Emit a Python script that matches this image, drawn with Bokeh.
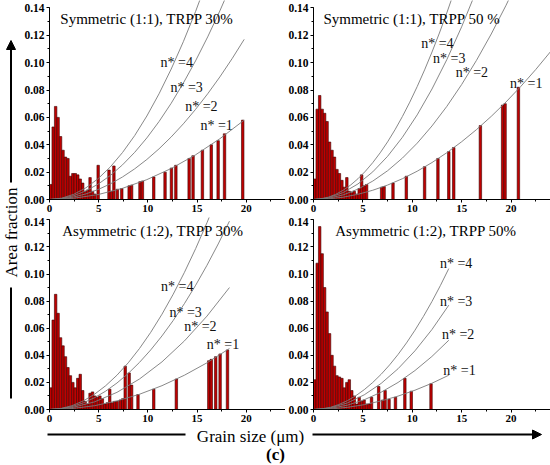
import math
from bokeh.plotting import figure
from bokeh.models import Range1d, SingleIntervalTicker, PrintfTickFormatter, Arrow, NormalHead
from bokeh.layouts import row, column
from bokeh.embed import file_html
from bokeh.resources import INLINE
from bokeh.core.properties import value

FONT = "Liberation Serif"
BIN = 0.25

titles = ["Symmetric (1:1), TRPP 30%", "Symmetric (1:1), TRPP 50 %",
          "Asymmetric (1:2), TRPP 30%", "Asymmetric (1:2), TRPP 50%"]
n_labels = ["n* =1", "n* =2", "n* =3", "n* =4"]

# ---- Top-left: Symmetric 30% ----
tl_dense = [0.011, 0.053, 0.068, 0.060, 0.046, 0.036, 0.031, 0.030, 0.017, 0.019,
            0.019, 0.018, 0.015, 0.012, 0.006, 0.007, 0.016, 0.006, 0.004]
tl_sparse_x = [4.95, 6.05, 6.3, 6.55, 6.9, 7.35, 8.1, 8.35, 9.2, 9.45, 10.6, 11.75,
               12.4, 12.85, 14.2, 14.6, 15.55, 16.45, 17.15, 17.8, 19.65]
tl_sparse_h = [0.025, 0.0215, 0.006, 0.0245, 0.0075, 0.008, 0.010, 0.0105, 0.013, 0.0135,
               0.0165, 0.020, 0.023, 0.025, 0.030, 0.032, 0.036, 0.040, 0.043, 0.048, 0.058]
tl_curve_x_end = 19.8
tl_curve_y_end = [0.058, 0.117, 0.180, 0.244]

# ---- Top-right: Symmetric 50% ----
tr_dense = [0.015, 0.066, 0.076, 0.066, 0.063, 0.057, 0.042, 0.036, 0.031, 0.022, 0.019,
            0.014, 0.009, 0.016, 0.006, 0.005, 0.006, 0.004, 0.008, 0.018, 0.010, 0.011]
tr_sparse_x = [6.9, 7.15, 8.05, 9.4, 11.25, 12.6, 13.7, 14.2, 16.9, 19.15, 19.4, 20.75]
tr_sparse_h = [0.009, 0.0095, 0.012, 0.017, 0.024, 0.030, 0.035, 0.038, 0.054, 0.069, 0.070, 0.082]
tr_curve_x_end = 24.0
tr_curve_y_end = [0.108, 0.215, 0.323, 0.431]

# ---- Bottom-left: Asymmetric 30% ----
bl_dense = [0.016, 0.066, 0.085, 0.071, 0.053, 0.047, 0.039, 0.031, 0.025, 0.020, 0.016,
            0.023, 0.026, 0.014, 0.006, 0.004, 0.012, 0.013, 0.010, 0.009, 0.010, 0.008,
            0.004, 0.005, 0.015, 0.005, 0.006, 0.006]
bl_sparse_x = [7.2, 7.45, 7.7, 8.1, 8.35, 9.0, 10.6, 12.9, 16.2, 16.45, 16.9, 17.35, 18.1]
bl_sparse_h = [0.007, 0.008, 0.032, 0.027, 0.018, 0.011, 0.015, 0.0225, 0.036, 0.037,
               0.039, 0.041, 0.044]
bl_curve_x_end = 18.3
bl_curve_y_end = [0.045, 0.090, 0.139, 0.180]

# ---- Bottom-right: Asymmetric 50% ----
br_dense = [0.022, 0.108, 0.135, 0.115, 0.090, 0.072, 0.056, 0.040, 0.032, 0.025, 0.024,
            0.023, 0.016, 0.020, 0.022, 0.014, 0.010, 0.004, 0.009, 0.006, 0.007, 0.004,
            0.004, 0.009]
br_sparse_x = [6.6, 7.0, 7.25, 7.65, 8.3, 9.25, 9.9, 11.9]
br_sparse_h = [0.017, 0.007, 0.014, 0.0075, 0.009, 0.023, 0.0135, 0.019]
br_curve_x_end = 13.7
br_curve_y_end = [0.0253, 0.0511, 0.077, 0.104]

# label positions (layout)
tl_lab = ([15.35, 13.8, 12.3, 11.3], [0.054, 0.068, 0.0817, 0.100])
tr_lab = ([19.9, 14.4, 12.1, 10.9], [0.085, 0.093, 0.1028, 0.1138])
bl_lab = ([16.0, 13.7, 12.2, 11.35], [0.048, 0.061, 0.0716, 0.0905])
br_lab = ([13.15, 13.0, 12.8, 12.8], [0.029, 0.055, 0.080, 0.1077])


def make_panel(dense, sx, sh, cxe, cye, lab, title, title_x, fw, fh, yend, left, right):
    p = figure(frame_width=fw, frame_height=fh, x_range=Range1d(0, 24), y_range=Range1d(0, yend),
               toolbar_location=None, output_backend="svg",
               min_border_left=left, min_border_right=right, min_border_top=0, min_border_bottom=18)
    p.outline_line_color = None
    p.grid.visible = False
    p.background_fill_color = "white"
    p.border_fill_color = "white"

    xs = [BIN / 2 + BIN * i for i in range(len(dense))]
    p.vbar(x=xs, top=dense, bottom=0, width=BIN, fill_color="#c00000",
           line_color="#3a0000", line_width=0.6)
    p.vbar(x=sx, top=sh, bottom=0, width=BIN, fill_color="#c00000",
           line_color="#3a0000", line_width=0.6)

    n = len(cye)
    p.quadratic(x0=[0] * n, y0=[0] * n, x1=[cxe] * n, y1=cye, cx=[cxe / 2] * n, cy=[0] * n,
                line_color="#7a7a7a", line_width=0.9)

    p.text(x=lab[0], y=lab[1], text=n_labels, text_font=value(FONT), text_font_size="14px",
           text_baseline="middle", text_align="left", text_color="#111111")
    p.text(x=[title_x], y=[0.132], text=[title], text_font=value(FONT), text_font_size="15px",
           text_baseline="alphabetic", text_align="left", text_color="black")

    ya = p.yaxis[0]
    ya.ticker = SingleIntervalTicker(interval=0.02, num_minor_ticks=2)
    ya.formatter = PrintfTickFormatter(format="%.2f")
    ya.bounds = (0, 0.1401)
    xa = p.xaxis[0]
    xa.ticker = SingleIntervalTicker(interval=5, num_minor_ticks=2)
    for ax, fs in ((ya, "11.5px"), (xa, "11px")):
        ax.major_tick_in = 0
        ax.major_tick_out = 3
        ax.minor_tick_in = 0
        ax.minor_tick_out = 2
        ax.major_label_standoff = 2
        ax.major_label_text_font = FONT
        ax.major_label_text_font_style = "bold"
        ax.major_label_text_font_size = fs
        ax.major_label_text_color = "black"
        ax.axis_line_color = "black"
        ax.major_tick_line_color = "black"
        ax.minor_tick_line_color = "black"
    return p


TOP_H, BOT_H = 199, 192
TOP_END, BOT_END = 0.1454, 0.1417

tl = make_panel(tl_dense, tl_sparse_x, tl_sparse_h, tl_curve_x_end, tl_curve_y_end, tl_lab,
                titles[0], 1.1, 236, TOP_H, TOP_END, 26, 0)
tr = make_panel(tr_dense, tr_sparse_x, tr_sparse_h, tr_curve_x_end, tr_curve_y_end, tr_lab,
                titles[1], 1.0, 237, TOP_H, TOP_END, 26, 4)
bl = make_panel(bl_dense, bl_sparse_x, bl_sparse_h, bl_curve_x_end, bl_curve_y_end, bl_lab,
                titles[2], 1.3, 236, BOT_H, BOT_END, 26, 0)
br = make_panel(br_dense, br_sparse_x, br_sparse_h, br_curve_x_end, br_curve_y_end, br_lab,
                titles[3], 2.2, 237, BOT_H, BOT_END, 26, 4)


def strip(w, h):
    s = figure(width=w, height=h, x_range=Range1d(0, w), y_range=Range1d(0, h),
               toolbar_location=None, output_backend="svg", min_border=0,
               x_axis_type=None, y_axis_type=None)
    s.outline_line_color = None
    s.grid.visible = False
    return s


LW, LH = 21, 427
left = strip(LW, LH)
left.add_layout(Arrow(end=NormalHead(size=9, fill_color="black", line_color="black", line_width=1),
                      x_start=10.5, y_start=LH - 182, x_end=10.5, y_end=LH - 40,
                      line_width=2, line_color="black"))
left.segment(x0=[10.5], y0=[LH - 287], x1=[10.5], y1=[LH - 398], line_width=2, line_color="black")
left.text(x=[11], y=[LH - 232], text=["Area fraction"], angle=math.pi / 2,
          text_font=value(FONT), text_font_size="17px", text_align="center",
          text_baseline="middle", text_color="black")

BW, BH = 550, 38
bottom = strip(BW, BH)
bottom.segment(x0=[47], y0=[BH - 7], x1=[185], y1=[BH - 7], line_width=2, line_color="black")
bottom.add_layout(Arrow(end=NormalHead(size=9, fill_color="black", line_color="black", line_width=1),
                        x_start=312, y_start=BH - 7, x_end=541, y_end=BH - 7,
                        line_width=2, line_color="black"))
bottom.text(x=[250], y=[BH - 8.5], text=["Grain size (\u03bcm)"], text_font=value(FONT),
            text_font_size="17px", text_align="center", text_baseline="middle", text_color="black")
bottom.text(x=[275], y=[BH - 27], text=["(c)"], text_font=value(FONT), text_font_style="bold",
            text_font_size="17px", text_align="center", text_baseline="middle", text_color="black")

layout = column(row(left, column(row(tl, tr), row(bl, br))), bottom)

open("out.html", "w").write(file_html(layout, INLINE))
